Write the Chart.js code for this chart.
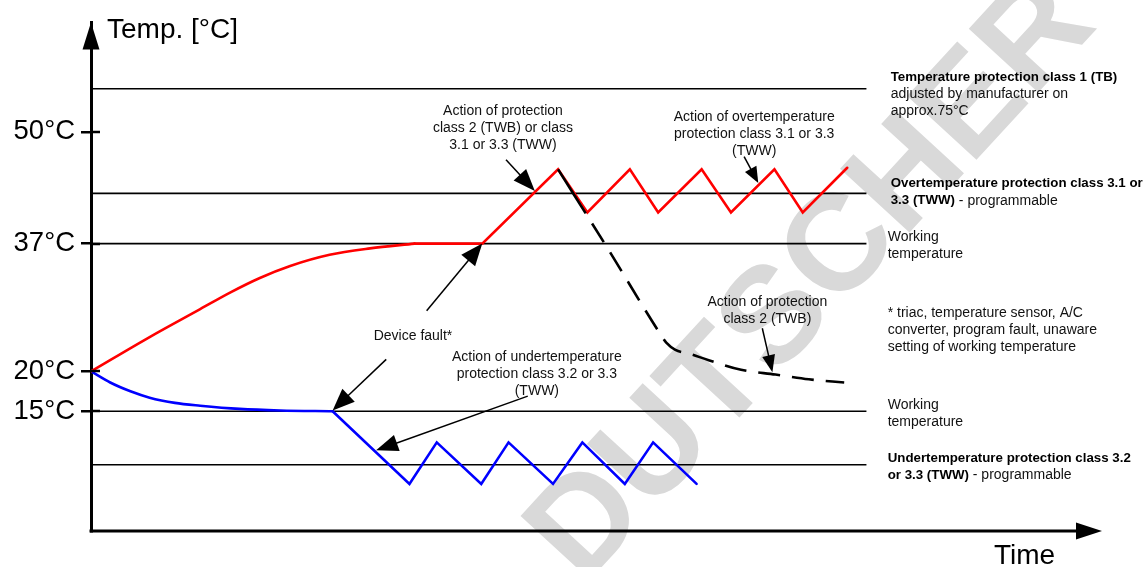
<!DOCTYPE html>
<html>
<head>
<meta charset="utf-8">
<script src="https://cdn.jsdelivr.net/npm/chart.js@4.4.1/dist/chart.umd.min.js"></script>
<style>
  html, body { margin: 0; padding: 0; background: #fff; }
  #wrap { width: 1146px; height: 567px; }
</style>
</head>
<body>
<div id="wrap"><canvas id="grafico" width="1146" height="567"></canvas></div>
<script>
// Esquema (no a escala): x = tiempo en unidades arbitrarias, y = nivel de temperatura
const yTickValues = [15, 20, 36, 50];
const yTickLabels = ['15°C', '20°C', '37°C', '50°C'];

// niveles de las líneas horizontales
const refLevels = [55.4, 42.3, 36, 15, 8.3];
const refLineEnd = 76.7;

// curva roja: calentamiento hasta temperatura de trabajo
const redCurveX = [0, 5.8, 10.8, 13.8, 16.7, 19.7, 23.6, 27.6, 32.0];
const redCurveY = [20, 24.3, 27.8, 29.9, 31.7, 33.2, 34.6, 35.4, 36.0];
// roja: fallo y acción de protección de sobretemperatura
const redFaultX = [32.0, 38.7, 46.2, 49.1, 53.3, 56.1, 60.4, 63.3, 67.6, 70.4, 74.8];
const redFaultY = [36, 36, 45.3, 39.9, 45.3, 39.9, 45.3, 39.9, 45.3, 39.9, 45.5];

// curva azul: enfriamiento hasta temperatura de trabajo
const blueCurveX = [0, 1.9, 3.9, 5.8, 8.3, 10.8, 14.7, 18.7, 23.9];
const blueCurveY = [20, 18.6, 17.5, 16.7, 16.05, 15.7, 15.3, 15.1, 15];
// azul: fallo y acción de protección de subtemperatura
const blueFaultX = [23.9, 31.5, 34.2, 38.6, 41.3, 45.7, 48.6, 52.8, 55.6, 59.9];
const blueFaultY = [15, 5.9, 11.1, 5.9, 11.1, 5.9, 11.1, 5.9, 11.1, 5.9];

// discontinua: acción de protección clase 2 (TWB)
const dashedX = [46.2, 51.3, 56.3, 56.9, 57.8, 59.2, 61.1, 64.3, 67.7, 71.0, 74.5];
const dashedY = [45.3, 35.0, 24.7, 23.6, 22.7, 22.2, 21.4, 20.2, 19.6, 19.0, 18.6];

// flechas de anotación: [x1, y1, x2 (punta), y2 (punta), largo cabeza, medio ancho]
const flechas = [
  [41.05, 46.5, 43.9, 42.6, 22, 8.5],
  [64.6, 46.9, 66.0, 43.6, 16, 6.5],
  [33.2, 27.6, 38.7, 36.0, 22, 9],
  [29.2, 21.5, 23.9, 15.1, 22, 9],
  [43.2, 16.9, 28.2, 10.1, 22, 8.5],
  [66.4, 25.4, 67.4, 19.9, 17, 6.5]
];

// textos centrados: x, y de la primera línea, líneas
const textosCentro = [
  { x: 40.75, y: 52.6, lineas: ['Action of protection', 'class 2 (TWB) or class', '3.1 or 3.3 (TWW)'] },
  { x: 65.6, y: 51.8, lineas: ['Action of overtemperature', 'protection class 3.1 or 3.3', '(TWW)'] },
  { x: 31.85, y: 24.4, lineas: ['Device fault*'] },
  { x: 44.1, y: 21.8, lineas: ['Action of undertemperature', 'protection class 3.2 or 3.3', '(TWW)'] },
  { x: 66.9, y: 28.7, lineas: ['Action of protection', 'class 2 (TWB)'] }
];

// textos de la derecha (b = negrita, r = normal)
const textosDerecha = [
  { x: 79.1, y: 56.8, lineas: [{ b: 'Temperature protection class 1 (TB)' }, { r: 'adjusted by manufacturer on' }, { r: 'approx.75°C' }] },
  { x: 79.1, y: 43.5, lineas: [{ b: 'Overtemperature protection class 3.1 or' }, { b: '3.3 (TWW)', r: ' - programmable' }] },
  { x: 78.8, y: 36.85, lineas: [{ r: 'Working' }, { r: 'temperature' }] },
  { x: 78.8, y: 27.25, lineas: [{ r: '* triac, temperature sensor, A/C' }, { r: 'converter, program fault, unaware' }, { r: 'setting of working temperature' }] },
  { x: 78.8, y: 15.75, lineas: [{ r: 'Working' }, { r: 'temperature' }] },
  { x: 78.8, y: 9.07, lineas: [{ b: 'Undertemperature protection class 3.2' }, { b: 'or 3.3 (TWW)', r: ' - programmable' }] }
];

const FUENTE = "'Liberation Sans', Arial, sans-serif";

// primer trazo largo sobre la bajada roja, luego guiones normales
const patronGuiones = [52, 12].concat(Array.from({ length: 26 }, (_, i) => (i % 2 ? 12 : 22)));

function puntos(xs, ys) {
  return xs.map((x, i) => ({ x: x, y: ys[i] }));
}

function flecha(ctx, x1, y1, x2, y2, largo, ancho) {
  const ang = Math.atan2(y2 - y1, x2 - x1);
  const c = Math.cos(ang), s = Math.sin(ang);
  ctx.beginPath();
  ctx.moveTo(x1, y1);
  ctx.lineTo(x2 - c * largo * 0.8, y2 - s * largo * 0.8);
  ctx.stroke();
  ctx.beginPath();
  ctx.moveTo(x2, y2);
  ctx.lineTo(x2 - largo * c + ancho * s, y2 - largo * s - ancho * c);
  ctx.lineTo(x2 - largo * c - ancho * s, y2 - largo * s + ancho * c);
  ctx.closePath();
  ctx.fill();
}

const decoraciones = {
  id: 'decoraciones',
  beforeDraw(chart) {
    // marca de agua
    const ctx = chart.ctx;
    ctx.save();
    ctx.translate(556, 561);
    ctx.rotate(-47.4 * Math.PI / 180);
    ctx.font = 'bold 137px ' + FUENTE;
    ctx.fillStyle = '#d9d9d9';
    ctx.textAlign = 'left';
    ctx.textBaseline = 'middle';
    ctx.fillText('DUTSCHER', 0, 0);
    ctx.restore();
  },
  afterDraw(chart) {
    const ctx = chart.ctx;
    const a = chart.chartArea;
    const sx = chart.scales.x, sy = chart.scales.y;
    ctx.save();
    ctx.fillStyle = '#000';
    ctx.strokeStyle = '#000';

    // eje x con flecha
    ctx.lineWidth = 3;
    ctx.beginPath();
    ctx.moveTo(a.left - 1.5, a.bottom);
    ctx.lineTo(a.right - 20, a.bottom);
    ctx.stroke();
    ctx.beginPath();
    ctx.moveTo(a.right, a.bottom);
    ctx.lineTo(a.right - 26, a.bottom - 8.5);
    ctx.lineTo(a.right - 26, a.bottom + 8.5);
    ctx.closePath();
    ctx.fill();
    // flecha eje y
    ctx.beginPath();
    ctx.moveTo(a.left, a.top);
    ctx.lineTo(a.left - 8.5, a.top + 27);
    ctx.lineTo(a.left + 8.5, a.top + 27);
    ctx.closePath();
    ctx.fill();
    // parte interior de las marcas del eje y
    ctx.lineWidth = 2.5;
    yTickValues.forEach(v => {
      const py = Math.round(sy.getPixelForValue(v));
      ctx.beginPath();
      ctx.moveTo(a.left, py);
      ctx.lineTo(a.left + 9, py);
      ctx.stroke();
    });

    // títulos de ejes
    ctx.font = '28px ' + FUENTE;
    ctx.textBaseline = 'alphabetic';
    ctx.textAlign = 'left';
    ctx.fillText('Temp. [°C]', a.left + 16, 38);
    ctx.fillText('Time', 994, 564);

    // flechas de anotación
    ctx.lineWidth = 1.5;
    flechas.forEach(f => {
      flecha(ctx, sx.getPixelForValue(f[0]), sy.getPixelForValue(f[1]),
        sx.getPixelForValue(f[2]), sy.getPixelForValue(f[3]), f[4], f[5]);
    });

    // textos centrados
    ctx.fillStyle = '#111';
    ctx.font = '14px ' + FUENTE;
    ctx.textAlign = 'center';
    ctx.textBaseline = 'middle';
    textosCentro.forEach(t => {
      const px = sx.getPixelForValue(t.x);
      const py = sy.getPixelForValue(t.y);
      t.lineas.forEach((l, i) => ctx.fillText(l, px, py + i * 17));
    });

    // textos de la derecha
    ctx.textAlign = 'left';
    textosDerecha.forEach(t => {
      const px = sx.getPixelForValue(t.x);
      const py = sy.getPixelForValue(t.y);
      t.lineas.forEach((l, i) => {
        let x = px;
        const y = py + i * 17;
        if (l.b) {
          ctx.font = 'bold 13.3px ' + FUENTE;
          ctx.fillStyle = '#000';
          ctx.fillText(l.b, x, y);
          x += ctx.measureText(l.b).width;
        }
        if (l.r) {
          ctx.font = '14px ' + FUENTE;
          ctx.fillStyle = '#111';
          ctx.fillText(l.r, x, y);
        }
      });
    });
    ctx.restore();
  }
};

const refDatasets = refLevels.map(v => ({
  data: puntos([0, refLineEnd], [v, v]),
  borderColor: '#000',
  borderWidth: 1.6,
  order: 2
}));

new Chart(document.getElementById('grafico'), {
  type: 'line',
  data: {
    datasets: [
      {
        data: puntos(dashedX, dashedY),
        borderColor: '#000',
        borderWidth: 2.6,
        borderDash: patronGuiones,
        cubicInterpolationMode: 'monotone',
        order: 0
      },
      {
        data: puntos(redCurveX, redCurveY),
        borderColor: '#ff0000',
        borderWidth: 2.6,
        borderCapStyle: 'round',
        cubicInterpolationMode: 'monotone',
        order: 1
      },
      {
        data: puntos(redFaultX, redFaultY),
        borderColor: '#ff0000',
        borderWidth: 2.6,
        borderJoinStyle: 'miter',
        borderCapStyle: 'round',
        order: 1
      },
      {
        data: puntos(blueCurveX, blueCurveY),
        borderColor: '#0000ff',
        borderWidth: 2.6,
        borderCapStyle: 'round',
        cubicInterpolationMode: 'monotone',
        order: 1
      },
      {
        data: puntos(blueFaultX, blueFaultY),
        borderColor: '#0000ff',
        borderWidth: 2.6,
        borderJoinStyle: 'miter',
        borderCapStyle: 'round',
        order: 1
      },
      ...refDatasets
    ]
  },
  options: {
    responsive: false,
    animation: false,
    devicePixelRatio: 1,
    layout: { padding: { left: 0, right: 44, top: 15, bottom: 36 } },
    elements: { point: { radius: 0 }, line: { tension: 0, fill: false } },
    plugins: { legend: { display: false }, tooltip: { enabled: false } },
    scales: {
      x: { type: 'linear', display: false, min: 0, max: 100 },
      y: {
        type: 'linear',
        min: 0,
        max: 63.7,
        afterFit: s => { s.width = 91; },
        afterBuildTicks: s => { s.ticks = yTickValues.map(v => ({ value: v })); },
        border: { display: true, color: '#000', width: 3 },
        grid: { drawOnChartArea: false, drawTicks: true, tickLength: 10, color: '#000', lineWidth: 2.5 },
        ticks: {
          autoSkip: false,
          padding: 6,
          color: '#000',
          font: { family: FUENTE, size: 27.5 },
          callback: (v, i) => yTickLabels[i]
        }
      }
    }
  },
  plugins: [decoraciones]
});
</script>
</body>
</html>
